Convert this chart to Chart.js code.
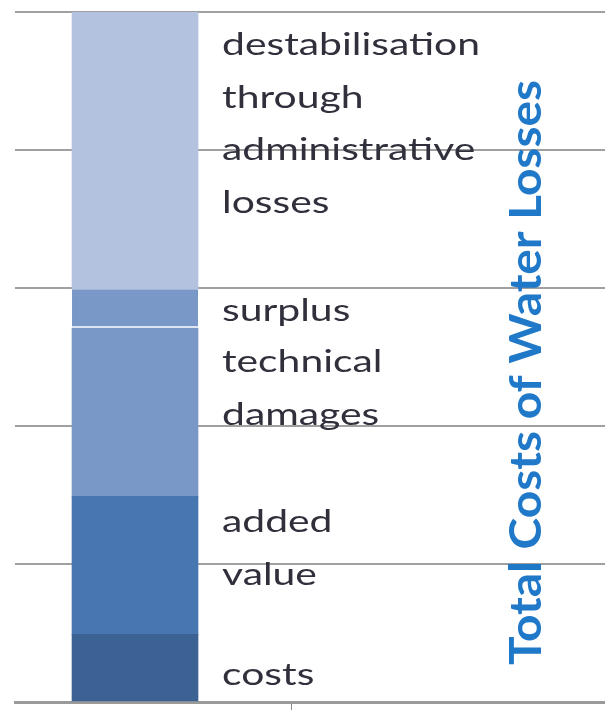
<!DOCTYPE html>
<html>
<head>
<meta charset="utf-8">
<script src="https://cdn.jsdelivr.net/npm/chart.js@4.4.0/dist/chart.umd.min.js"></script>
<style>
  html, body { margin: 0; padding: 0; background: #ffffff; }
  #wrap { width: 605px; height: 711px; position: relative; }
</style>
</head>
<body>
<div id="wrap"><canvas id="c" width="605" height="711"></canvas></div>
<script>
// ---- data ----
const seriesNames = ["costs", "added value", "technical damages", "surplus", "destabilisation through administrative losses"];
const seriesValues = [0.49, 1.0, 1.22, 0.28, 2.01];
const seriesLabelLines = [
  ["costs"],
  ["added", "value"],
  ["technical", "damages"],
  ["surplus"],
  ["destabilisation", "through", "administrative", "losses"]
];
const yTicks = [0, 1, 2, 3, 4, 5];
const titleText = "Total Costs of Water Losses";

// ---- style ----
const seriesColors = ["#3c6294", "#4876b1", "#7a98c7", "#7a98c7", "#b3c3df"];
const labelFirstBaseline = [51, 36, 44, 32, 43];
const lineGap = 52.5;

const datasets = seriesNames.map((n, i) => ({
  label: n,
  data: [{ x: 0, y: seriesValues[i] }],
  backgroundColor: seriesColors[i],
  borderColor: "#ffffff",
  borderWidth: i === 3 ? { top: 0, left: 0, right: 0, bottom: 2 } : 0,
  borderSkipped: false,
  barThickness: 126
}));

const labelPlugin = {
  id: "segLabels",
  afterDatasetsDraw(chart) {
    const ctx = chart.ctx;
    ctx.save();
    ctx.font = "30px Lato";
    const sx = 258 / ctx.measureText("destabilisation").width;
    ctx.fillStyle = "#30303c";
    ctx.textBaseline = "alphabetic";
    ctx.textAlign = "left";
    chart.data.datasets.forEach((ds, i) => {
      const el = chart.getDatasetMeta(i).data[0];
      const top = Math.min(el.y, el.base);
      const x = el.x + el.width / 2 + 24;
      seriesLabelLines[i].forEach((line, j) => {
        ctx.save();
        ctx.translate(x, top + labelFirstBaseline[i] + j * lineGap);
        ctx.scale(sx, 1);
        ctx.fillText(line, 0, 0);
        ctx.restore();
      });
    });
    // title
    ctx.font = "bold 40px Lato";
    const tw = ctx.measureText(titleText).width;
    const along = 585 / tw;
    const across = 32 / (0.72 * 40);
    ctx.fillStyle = "#1f78c8";
    ctx.translate(541, 665);
    ctx.rotate(-Math.PI / 2);
    ctx.scale(along, across);
    ctx.fillText(titleText, 0, 0);
    ctx.restore();
  }
};

new Chart(document.getElementById("c"), {
  type: "bar",
  data: { datasets },
  options: {
    responsive: false,
    animation: false,
    devicePixelRatio: 1,
    layout: { padding: { left: 15, top: 12, right: 0, bottom: 1 } },
    plugins: { legend: { display: false }, tooltip: { enabled: false } },
    scales: {
      x: {
        type: "linear",
        stacked: true,
        offset: false,
        bounds: "ticks",
        min: -0.5,
        max: 1.958,
        afterBuildTicks: (s) => { s.ticks = [{ value: 0.654 }]; },
        ticks: { display: false },
        grid: { drawOnChartArea: false, drawTicks: true, tickLength: 8, color: "#8a8a8a", lineWidth: 1, offset: false },
        border: { display: true, width: 3, color: "#9a9a9a" }
      },
      y: {
        stacked: true,
        min: 0,
        max: 5,
        afterBuildTicks: (s) => { s.ticks = yTicks.map(v => ({ value: v })); },
        ticks: { display: false },
        grid: { color: "#a0a0a0", lineWidth: 2, drawTicks: false },
        border: { display: false }
      }
    }
  },
  plugins: [labelPlugin]
});
</script>
</body>
</html>
